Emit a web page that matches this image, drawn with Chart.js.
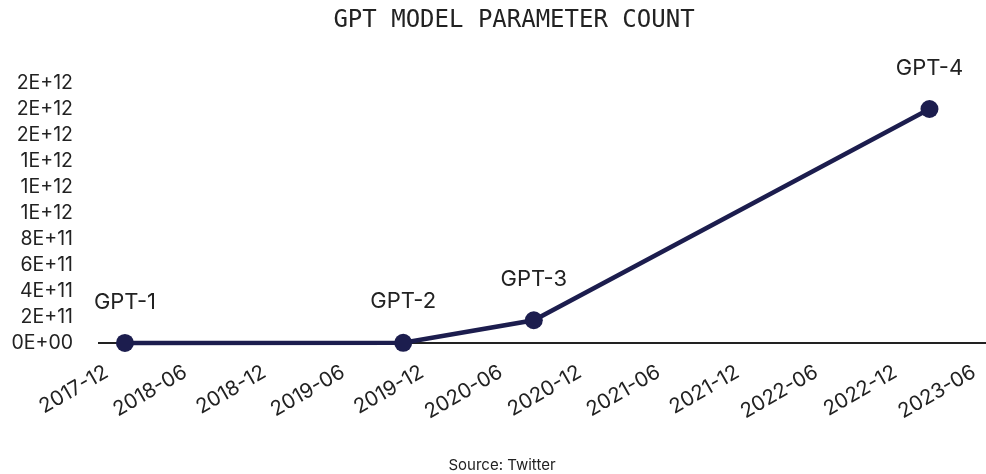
<!DOCTYPE html>
<html>
<head>
<meta charset="utf-8">
<title>GPT model parameter count</title>
<script src="https://cdn.jsdelivr.net/npm/chart.js@4.4.1/dist/chart.umd.min.js"></script>
<style>
  html, body { margin: 0; padding: 0; background: #fff; }
  #wrap { width: 986px; height: 474px; position: relative; }
</style>
</head>
<body>
<div id="wrap"><canvas id="chart"></canvas></div>
<script>
// data
var models = ['GPT-1', 'GPT-2', 'GPT-3', 'GPT-4'];
var releaseDates = ['2018-01-13', '2019-10-18', '2020-08-16', '2023-02-19'];
var paramCounts = [1.17e8, 1.5e9, 1.75e11, 1.8e12];

var tickLabels = ['2017-12', '2018-06', '2018-12', '2019-06', '2019-12', '2020-06',
                  '2020-12', '2021-06', '2021-12', '2022-06', '2022-12', '2023-06'];
var yTicks = [0, 2e11, 4e11, 6e11, 8e11, 1e12, 1.2e12, 1.4e12, 1.6e12, 1.8e12, 2e12];

var navy = '#1c1d4e';
var textCol = '#222222';

// months counted from 2017-12
function toMonths(s) {
	var p = s.split('-').map(Number);
	return (p[0] - 2017) * 12 + (p[1] - 12) + ((p[2] || 1) - 1) / 30;
}

function sci(v) {
	var s = v.toExponential(0).split('e');
	var e = parseInt(s[1], 10);
	return s[0] + 'E' + (e < 0 ? '-' : '+') + String(Math.abs(e)).padStart(2, '0');
}

var points = releaseDates.map(function(d, i) {
	return { x: toMonths(d), y: paramCounts[i] };
});

var textPlugin = {
	id: 'textPlugin',
	afterDatasetsDraw: function(chart) {
		var ctx = chart.ctx;
		var meta = chart.getDatasetMeta(0);
		ctx.save();
		ctx.font = '22px Inter';
		ctx.fillStyle = textCol;
		ctx.textAlign = 'center';
		ctx.textBaseline = 'middle';
		meta.data.forEach(function(pt, i) {
			ctx.fillText(models[i], pt.x, pt.y - 41);
		});

		ctx.font = '24px "DejaVu Sans Mono"';
		ctx.fillText('GPT MODEL PARAMETER COUNT', 514, 21);

		ctx.font = '15px Inter';
		ctx.fillText('Source: Twitter', 502, 465);
		ctx.restore();
	}
};

new Chart(document.getElementById('chart'), {
	type: 'line',
	data: {
		datasets: [{
			data: points,
			borderColor: navy,
			backgroundColor: navy,
			borderWidth: 4.5,
			pointRadius: 9,
			pointHoverRadius: 9,
			pointBackgroundColor: navy,
			pointBorderColor: navy,
			pointBorderWidth: 0,
			tension: 0,
			clip: false
		}]
	},
	options: {
		responsive: true,
		maintainAspectRatio: false,
		devicePixelRatio: 1,
		animation: false,
		layout: { autoPadding: false, padding: { top: 83, left: 0, right: 0, bottom: 0 } },
		plugins: {
			legend: { display: false },
			tooltip: { enabled: false },
			title: { display: false }
		},
		scales: {
			x: {
				type: 'linear',
				min: -0.65,
				max: 66.9,
				afterBuildTicks: function(axis) {
					axis.ticks = tickLabels.map(function(t) { return { value: toMonths(t) }; });
				},
				afterFit: function(axis) {
					axis.height = 131;
					axis.paddingLeft = 0;
					axis.paddingRight = 0;
				},
				grid: { display: false, drawTicks: false },
				border: { display: false },
				ticks: {
					autoSkip: false,
					minRotation: 30,
					maxRotation: 30,
					padding: 17,
					color: textCol,
					font: { family: 'Inter', size: 20.5 },
					callback: function(v, i) { return tickLabels[i]; }
				}
			},
			y: {
				min: 0,
				max: 2e12,
				afterBuildTicks: function(axis) {
					axis.ticks = yTicks.map(function(v) { return { value: v }; });
				},
				afterFit: function(axis) { axis.width = 98; },
				grid: {
					drawTicks: false,
					lineWidth: 2,
					color: function(c) { return c.tick && c.tick.value === 0 ? textCol : 'rgba(0,0,0,0)'; }
				},
				border: { display: false },
				ticks: {
					autoSkip: false,
					padding: 25,
					color: textCol,
					font: { family: 'Inter', size: 19.5 },
					callback: function(v) { return sci(v); }
				}
			}
		}
	},
	plugins: [textPlugin]
});
</script>
</body>
</html>
